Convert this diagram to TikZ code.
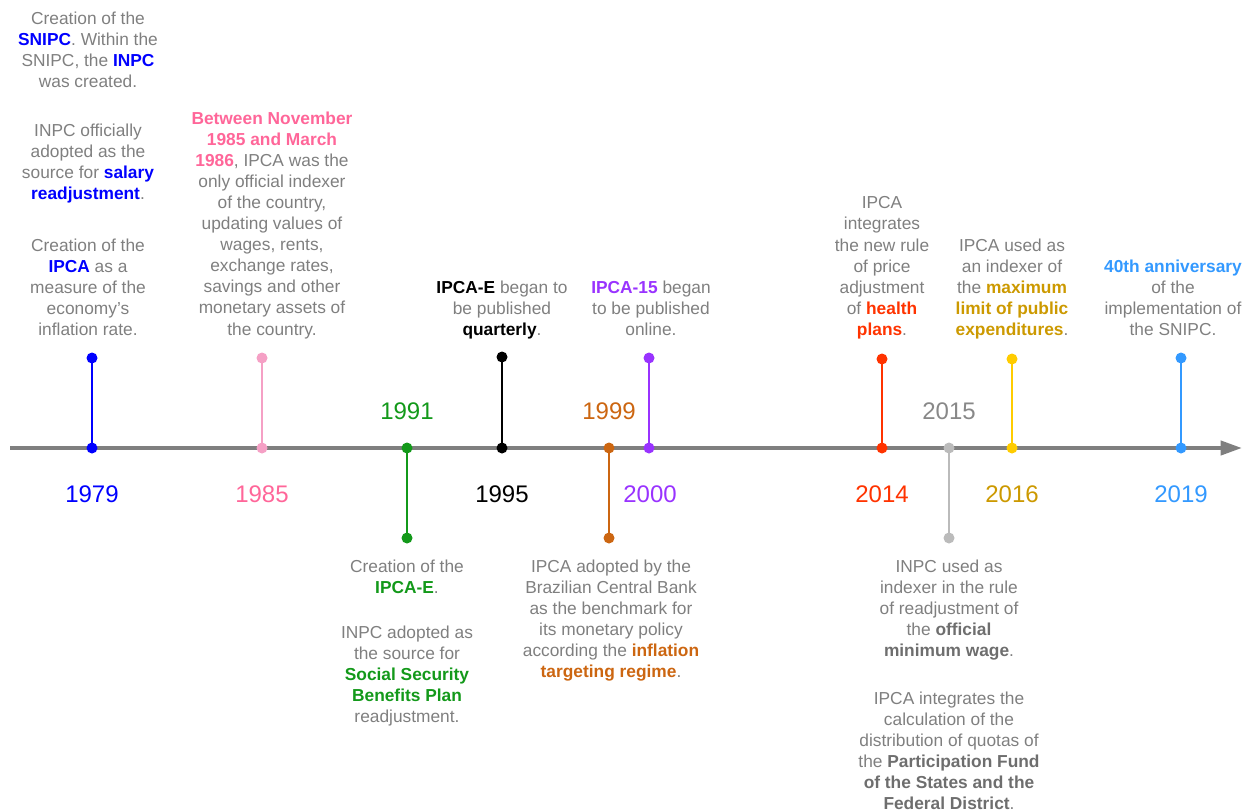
\documentclass[tikz,border=0pt]{standalone}
\usepackage{fontspec}
\setmainfont{Liberation Sans}
\usetikzlibrary{arrows.meta}
\definecolor{tgray}{HTML}{7F7F7F}
\definecolor{axgray}{HTML}{7F7F7F}
\definecolor{cblue}{HTML}{0000FF}
\definecolor{cpinkt}{HTML}{FF6699}
\definecolor{cpinkl}{HTML}{F5A0C5}
\definecolor{cgreen}{HTML}{13991A}
\definecolor{corange}{HTML}{CC6611}
\definecolor{cpurple}{HTML}{9933FF}
\definecolor{cred}{HTML}{FF3300}
\definecolor{cgrayl}{HTML}{BBBBBB}
\definecolor{cgrayt}{HTML}{888888}
\definecolor{cgrayb}{HTML}{6E6E6E}
\definecolor{cgoldl}{HTML}{FFCC00}
\definecolor{cgoldt}{HTML}{CC9900}
\definecolor{cltblue}{HTML}{3399FF}
\newcommand\hl[2]{\textbf{\textcolor{#1}{#2}}}
\tikzset{
  txt/.style={font=\fontsize{13}{15.8}\selectfont, text=tgray, align=center, inner sep=0pt, anchor=north},
  year/.style={font=\fontsize{18}{20}\selectfont, text=#1, inner sep=0pt, anchor=base},
  stem/.style={draw=#1, line width=1.5pt},
  dot/.style={circle, fill=#1, draw=none, inner sep=0pt, minimum size=8.25pt},
  axis/.style={draw=axgray, line width=3pt, -{Triangle[length=16pt,width=10.5pt]}}
}
\begin{document}
\begin{tikzpicture}[x=0.75pt,y=-0.75pt]
\useasboundingbox (0,0) rectangle (1252,811);
% axis
\coordinate (axL) at (10,448);
\coordinate (axR) at (1242,448);
\draw[axis] (axL) -- (axR);
% stem coordinates
\coordinate (t79) at (92,358);  \coordinate (b79) at (92,448);
\coordinate (t85) at (262,358); \coordinate (b85) at (262,448);
\coordinate (t91) at (407,538); \coordinate (b91) at (407,448);
\coordinate (t95) at (502,357); \coordinate (b95) at (502,448);
\coordinate (t99) at (609,538); \coordinate (b99) at (609,448);
\coordinate (t00) at (649,358); \coordinate (b00) at (649,448);
\coordinate (t14) at (882,359); \coordinate (b14) at (882,448);
\coordinate (t15) at (949,538); \coordinate (b15) at (949,448);
\coordinate (t16) at (1012,359); \coordinate (b16) at (1012,448);
\coordinate (t19) at (1181,358); \coordinate (b19) at (1181,448);
% stems
\draw[stem=cblue] (t79) -- (b79);
\draw[stem=cpinkl] (t85) -- (b85);
\draw[stem=cgreen] (t91) -- (b91);
\draw[stem=black] (t95) -- (b95);
\draw[stem=corange] (t99) -- (b99);
\draw[stem=cpurple] (t00) -- (b00);
\draw[stem=cred] (t14) -- (b14);
\draw[stem=cgrayl] (t15) -- (b15);
\draw[stem=cgoldl] (t16) -- (b16);
\draw[stem=cltblue] (t19) -- (b19);
% dots
\node[dot=cblue] (d79t) at (t79) {}; \node[dot=cblue] (d79b) at (b79) {};
\node[dot=cpinkl] (d85t) at (t85) {}; \node[dot=cpinkl] (d85b) at (b85) {};
\node[dot=cgreen] (d91t) at (t91) {}; \node[dot=cgreen] (d91b) at (b91) {};
\node[dot=black] (d95t) at (t95) {}; \node[dot=black] (d95b) at (b95) {};
\node[dot=corange] (d99t) at (t99) {}; \node[dot=corange] (d99b) at (b99) {};
\node[dot=cpurple] (d00t) at (t00) {}; \node[dot=cpurple] (d00b) at (b00) {};
\node[dot=cred] (d14t) at (t14) {}; \node[dot=cred] (d14b) at (b14) {};
\node[dot=cgrayl] (d15t) at (t15) {}; \node[dot=cgrayl] (d15b) at (b15) {};
\node[dot=cgoldl] (d16t) at (t16) {}; \node[dot=cgoldl] (d16b) at (b16) {};
\node[dot=cltblue] (d19t) at (t19) {}; \node[dot=cltblue] (d19b) at (b19) {};
% years
\node[year=cblue] (y79) at (92,502) {1979};
\node[year=cpinkt] (y85) at (262,502) {1985};
\node[year=cgreen] (y91) at (407,419) {1991};
\node[year=black] (y95) at (502,502) {1995};
\node[year=corange] (y99) at (609,419) {1999};
\node[year=cpurple] (y00) at (650,502) {2000};
\node[year=cred] (y14) at (882,502) {2014};
\node[year=cgrayt] (y15) at (949,419) {2015};
\node[year=cgoldt] (y16) at (1012,502) {2016};
\node[year=cltblue] (y19) at (1181,502) {2019};
% texts above
\node[txt] (a79a) at (88,11.5) {Creation of the\\ \hl{cblue}{SNIPC}. Within the\\ SNIPC, the \hl{cblue}{INPC}\\ was created.};
\node[txt] (a79b) at (88,123.5) {INPC officially\\ adopted as the\\ source for \hl{cblue}{salary}\\ \hl{cblue}{readjustment}.};
\node[txt] (a79c) at (88,238.5) {Creation of the\\ \hl{cblue}{IPCA} as a\\ measure of the\\ economy’s\\ inflation rate.};
\node[txt] (a85) at (272,111.5) {\hl{cpinkt}{Between November}\\ \hl{cpinkt}{1985 and March}\\ \hl{cpinkt}{1986}, IPCA was the\\ only official indexer\\ of the country,\\ updating values of\\ wages, rents,\\ exchange rates,\\ savings and other\\ monetary assets of\\ the country.};
\node[txt] (a95) at (502,280.5) {\hl{black}{IPCA-E} began to\\ be published\\ \hl{black}{quarterly}.};
\node[txt] (a00) at (651,280.5) {\hl{cpurple}{IPCA-15} began\\ to be published\\ online.};
\node[txt] (a14) at (882,196.5) {IPCA\\ integrates\\ the new rule\\ of price\\ adjustment\\ of \hl{cred}{health}\\ \hl{cred}{plans}.};
\node[txt] (a16) at (1012,238.5) {IPCA used as\\ an indexer of\\ the \hl{cgoldt}{maximum}\\ \hl{cgoldt}{limit of public}\\ \hl{cgoldt}{expenditures}.};
\node[txt] (a19) at (1173,259.5) {\hl{cltblue}{40th anniversary}\\ of the\\ implementation of\\ the SNIPC.};
% texts below
\node[txt] (a91a) at (407,559.5) {Creation of the\\ \hl{cgreen}{IPCA-E}.};
\node[txt] (a91b) at (407,625.5) {INPC adopted as\\ the source for\\ \hl{cgreen}{Social Security}\\ \hl{cgreen}{Benefits Plan}\\ readjustment.};
\node[txt] (a99) at (611,559.5) {IPCA adopted by the\\ Brazilian Central Bank\\ as the benchmark for\\ its monetary policy\\ according the \hl{corange}{inflation}\\ \hl{corange}{targeting regime}.};
\node[txt] (a15a) at (949,559.5) {INPC used as\\ indexer in the rule\\ of readjustment of\\ the \hl{cgrayb}{official}\\ \hl{cgrayb}{minimum wage}.};
\node[txt] (a15b) at (949,691.5) {IPCA integrates the\\ calculation of the\\ distribution of quotas of\\ the \hl{cgrayb}{Participation Fund}\\ \hl{cgrayb}{of the States and the}\\ \hl{cgrayb}{Federal District}.};
\end{tikzpicture}
\end{document}
